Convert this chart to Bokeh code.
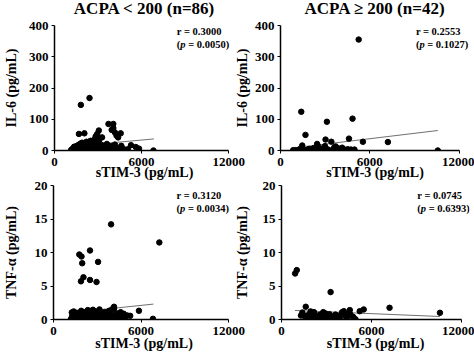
from bokeh.plotting import figure
from bokeh.layouts import column, row
from bokeh.models import Range1d, FixedTicker, Label
from bokeh.embed import file_html
from bokeh.resources import INLINE

# ---------------- data ----------------
# Panel A: ACPA < 200 (n=86), IL-6 vs sTIM-3
il6_low_x = [1815, 2412, 1682, 2058, 3718, 4050, 4050, 3940, 4160, 4560,
             3054, 2943, 2832, 2722, 2611, 3276, 3054, 4271, 4382, 3607,
             4160, 4604, 5268, 5600, 5822, 6817,
             1150, 1250, 1300, 1400, 1450, 1500, 1550, 1600, 1650, 1700,
             1720, 1780, 1800, 1850, 1900, 1950, 2000, 2050, 2100, 2150,
             2200, 2250, 2300, 2350, 2400, 2450, 2500, 2550, 2600, 2650,
             2700, 2750, 2800, 2850, 2900, 2950, 3000, 3050, 3100, 3200,
             3250, 3300, 3400, 3500, 3550, 3700, 3800, 3900, 4000, 4100,
             4300, 4400, 4700, 4900, 5050, 1350, 1900, 2200, 2480, 2950]
il6_low_y = [146, 168, 53, 55, 85, 85, 72, 66, 58, 55,
             64, 53, 45, 34, 27, 42, 31, 48, 42, 21,
             19, 15, 17, 11, 6, 0,
             2, 6, 1, 9, 3, 14, 0, 5, 18, 8,
             2, 22, 12, 4, 16, 1, 9, 20, 3, 13,
             6, 0, 17, 10, 2, 24, 7, 14, 1, 19,
             5, 11, 2, 16, 8, 0, 22, 12, 4, 9,
             18, 2, 7, 13, 1, 10, 4, 14, 6, 2,
             9, 3, 6, 2, 4, 12, 25, 28, 31, 37]
il6_low_trend_x = [1150, 6850]
il6_low_trend_y = [13, 37]

# Panel B: ACPA >= 200 (n=42), IL-6 vs sTIM-3
il6_high_x = [850, 1024, 1307, 1395, 1460, 1678, 1743, 1853, 1917, 2070,
              2244, 2462, 2616, 2723, 2834, 2940, 2987, 3118, 3027, 3204,
              3417, 3706, 3859, 3990, 4142, 4295, 4513, 4600, 4731, 4840,
              4971, 5253, 5537, 7216, 10570, 1600, 2150, 2350, 3550, 3600,
              4050, 2550]
il6_high_y = [1, 1, 5, 124, 16, 50, 0, 3, 5, 2,
              8, 21, 7, 3, 5, 10, 14, 92, 35, 3,
              28, 13, 7, 1, 9, 3, 4, 38, 3, 102,
              3, 355, 28, 27, 0, 2, 4, 0, 2, 9,
              4, 12]
il6_high_trend_x = [1000, 10570]
il6_high_trend_y = [9, 64]

# Panel C: ACPA < 200 (n=86), TNF-a vs sTIM-3
tnf_low_x = [3945, 7250, 2500, 1767, 1920, 1967, 3053, 2053, 2500, 1880,
             2947, 1253, 2700, 4147, 4147, 3813, 5853, 5253, 6813, 4813,
             3253,
             1200, 1280, 1350, 1420, 1480, 1540, 1600, 1650, 1700, 1760,
             1820, 1870, 1930, 1990, 2040, 2100, 2150, 2210, 2260, 2320,
             2380, 2430, 2490, 2540, 2600, 2650, 2720, 2780, 2830, 2890,
             2940, 3000, 3060, 3110, 3170, 3230, 3290, 3350, 3420, 3500,
             3580, 3650, 3720, 3790, 3870, 3950, 4020, 4090, 4200, 4280,
             4360, 4450, 4530, 4620, 4700, 4900, 5050, 1380, 1900, 2350,
             2880, 3150, 3500, 4000, 4600]
tnf_low_y = [14.2, 11.5, 10.3, 9.7, 9.4, 8.4, 8.6, 6.3, 5.9, 5.7,
             5.6, 1.05, 1.45, 1.9, 1.6, 1.3, 1.3, 0.55, 0.1, 0.85,
             0.95,
             0.1, 0.5, 0.2, 0.8, 0.0, 0.4, 1.0, 0.2, 0.6, 0.1,
             0.9, 0.3, 0.0, 0.7, 0.2, 1.1, 0.4, 0.0, 0.8, 0.3,
             0.6, 0.1, 1.0, 0.4, 0.0, 0.7, 0.2, 0.9, 0.5, 0.1,
             0.8, 0.3, 1.2, 0.0, 0.6, 0.2, 0.9, 0.4, 0.1, 0.7,
             0.3, 1.0, 0.0, 0.5, 0.2, 0.8, 0.4, 0.1, 0.6, 0.3,
             0.9, 0.2, 0.5, 0.1, 0.7, 0.3, 0.6, 1.2, 1.3, 1.4,
             1.2, 1.5, 1.1, 1.5, 1.1]
tnf_low_trend_x = [1150, 6850]
tnf_low_trend_y = [1.0, 2.3]

# Panel D: ACPA >= 200 (n=42), TNF-a vs sTIM-3
tnf_high_x = [909, 1020, 3278, 1619, 7213, 10577, 5488, 5222, 4558, 4160,
              2787, 1394, 1504, 1681, 1836, 1991, 2167, 2278, 2433, 2610,
              2831, 2942, 3097, 3606, 3761, 3894, 4049, 4271, 4381, 4602,
              4779, 4934, 3451, 1947, 2500, 3319, 1300, 2050, 2700, 3200,
              3900, 4500]
tnf_high_y = [6.87, 7.37, 4.09, 1.9, 1.75, 1.0, 1.5, 1.24, 1.4, 1.24,
              1.1, 1.04, 0.55, 0.15, 0.78, 0.25, 1.1, 0.5, 0.05, 0.73,
              0.4, 0.9, 0.15, 0.73, 0.4, 0.15, 1.1, 0.5, 0.15, 0.73,
              0.4, 0.05, 0.15, 1.2, 0.65, 0.5, 0.6, 0.9, 0.2, 0.8,
              0.6, 1.0]
tnf_high_trend_x = [900, 10580]
tnf_high_trend_y = [1.35, 0.45]

x_ticks = [0, 6000, 12000]
il6_ticks = [0, 100, 200, 300, 400]
tnf_ticks = [0, 5, 10, 15, 20]

titles = ["ACPA < 200 (n=86)", "ACPA \u2265 200 (n=42)"]
stats_r = ["r = 0.3000", "r = 0.2553", "r = 0.3120", "r = 0.0745"]
stats_p = ["0.0050", "0.1027", "0.0034", "0.6393"]

FONT = "Liberation Serif"


def make_panel(xs, ys, tx, ty, ymax, yticks, ylabel, title, r_txt, p_txt,
               stat_x, stat_y1, stat_y2, width, height, borders, margin,
               ylab_standoff, xlab_standoff, x_end):
    left, right, top, bottom = borders
    kw = {}
    if title is None:
        kw["title"] = None
    p = figure(width=width, height=height, output_backend="svg",
               toolbar_location=None,
               x_range=Range1d(0, x_end), y_range=Range1d(0, ymax),
               min_border_left=left, min_border_right=right,
               min_border_top=top, min_border_bottom=bottom,
               margin=margin, **kw)
    if title is not None:
        p.title.text = title
        p.title.align = "center"
        p.title.text_font = FONT
        p.title.text_font_style = "bold"
        p.title.text_font_size = "17px"
        p.title.text_color = "black"
        p.title.standoff = 16
    p.border_fill_color = None
    p.outline_line_color = None
    p.background_fill_color = "white"
    p.xgrid.visible = False
    p.ygrid.visible = False

    p.line(tx, ty, line_color="#707070", line_width=1)
    p.scatter(xs, ys, size=5.5, fill_color="black", line_color="black")

    for ax in (p.xaxis[0], p.yaxis[0]):
        ax.axis_line_color = "black"
        ax.axis_line_width = 1.5
        ax.major_tick_line_color = "black"
        ax.major_tick_out = 3
        ax.major_tick_in = 0
        ax.minor_tick_line_color = None
        ax.major_label_text_font = FONT
        ax.major_label_text_font_style = "bold"
        ax.major_label_text_font_size = "13px"
        ax.major_label_text_color = "black"
        ax.major_label_standoff = 3
        ax.axis_label_text_font = FONT
        ax.axis_label_text_font_style = "bold"
        ax.axis_label_text_font_size = "14px"
        ax.axis_label_text_color = "black"

    xa = p.xaxis[0]
    xa.ticker = FixedTicker(ticks=x_ticks)
    xa.axis_label = "sTIM-3 (pg/mL)"
    xa.bounds = (0, 12000)
    xa.major_label_standoff = 4
    xa.axis_label_standoff = xlab_standoff

    ya = p.yaxis[0]
    ya.ticker = FixedTicker(ticks=yticks)
    ya.axis_label = ylabel
    ya.axis_label_standoff = ylab_standoff

    fs = 10.5
    common = dict(text_font=FONT, text_font_size=f"{fs}px",
                  text_color="black", text_baseline="middle",
                  text_align="left")
    p.add_layout(Label(x=stat_x, y=stat_y1, text=r_txt,
                       text_font_style="bold", **common))
    p.add_layout(Label(x=stat_x, y=stat_y2, text="(",
                       text_font_style="bold", **common))
    p.add_layout(Label(x=stat_x, y=stat_y2, text="p", x_offset=0.333 * fs,
                       text_font_style="bold italic", **common))
    p.add_layout(Label(x=stat_x, y=stat_y2, text="= " + p_txt + ")",
                       x_offset=(0.333 + 0.5 + 0.25) * fs,
                       text_font_style="bold", **common))
    return p


p1 = make_panel(il6_low_x, il6_low_y, il6_low_trend_x, il6_low_trend_y,
                400, il6_ticks, "IL-6 (pg/mL)", titles[0], stats_r[0],
                stats_p[0], 8430, 381, 340, 245, 196, (49, 11, 37, 34),
                (-12, 0, 0, 0), 7, -4, 12400)
p2 = make_panel(il6_high_x, il6_high_y, il6_high_trend_x, il6_high_trend_y,
                400, il6_ticks, "IL-6 (pg/mL)", titles[1], stats_r[1],
                stats_p[1], 9097, 381, 340, 243, 196, (44, 5, 37, 34),
                (-12, 0, 0, -14), 2, -4, 12700)
p3 = make_panel(tnf_low_x, tnf_low_y, tnf_low_trend_x, tnf_low_trend_y,
                20, tnf_ticks, "TNF-\u03b1 (pg/mL)", None, stats_r[2],
                stats_p[2], 8430, 18.5, 16.6, 245, 180, (49, 11, 11, 35),
                (-10, 0, 0, 0), 13, -2, 12400)
p4 = make_panel(tnf_high_x, tnf_high_y, tnf_high_trend_x, tnf_high_trend_y,
                20, tnf_ticks, "TNF-\u03b1 (pg/mL)", None, stats_r[3],
                stats_p[3], 9070, 18.5, 16.6, 243, 180, (46, 5, 11, 35),
                (-10, 0, 0, -14), 10, -2, 12550)

layout = column(row(p1, p2), row(p3, p4))
open("out.html", "w").write(file_html(layout, INLINE))
